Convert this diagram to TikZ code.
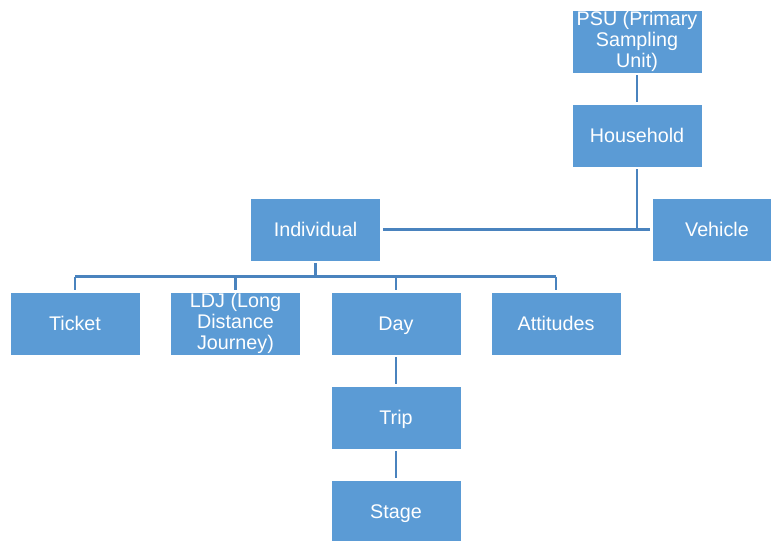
\documentclass[tikz,border=0pt]{standalone}
\usepackage{fontspec}
\setmainfont{Liberation Sans}
\definecolor{boxblue}{RGB}{91,155,213}
\definecolor{lineblue}{RGB}{74,131,190}
\newcommand{\boxstrut}{\rule[-3.1pt]{0pt}{16.5pt}}

\tikzset{every picture/.style={line width=0.75pt}}

\begin{document}
\begin{tikzpicture}[x=0.75pt,y=0.75pt,yscale=-1,xscale=1,
	unitbox/.style={draw=white,line width=0.4pt,fill=boxblue,text=white,minimum width=97.5pt,minimum height=47.25pt,inner sep=0pt,align=center,font=\fontsize{14.8}{15.6}\selectfont,execute at begin node=\boxstrut,execute at end node=\boxstrut},
	link/.style={draw=lineblue,line width=2.2pt,shorten <=1.5pt,shorten >=1.5pt}]
	\useasboundingbox (0,0) rectangle (771,540);
	\clip (0,0) rectangle (771,540);

	% Boxes
	\node [unitbox] (psu) at (637,41.5) {PSU (Primary\\Sampling\\Unit)};
	\node [unitbox] (household) at (637,135.5) {Household};
	\node [unitbox] (individual) at (315.5,229.5) {Individual};
	\node [unitbox] (vehicle) at (717,229.5) {Vehicle};
	\node [unitbox] (ticket) at (75,323.5) {Ticket};
	\node [unitbox] (ldj) at (235.5,323.5) {LDJ (Long\\Distance\\Journey)};
	\node [unitbox] (day) at (396,323.5) {Day};
	\node [unitbox] (attitudes) at (556,323.5) {Attitudes};
	\node [unitbox] (trip) at (396,417.5) {Trip};
	\node [unitbox] (stage) at (396,511.5) {Stage};

	% Bus line under Individual
	\coordinate (bus) at (315.5,276.5);

	% Connectors
	\draw [link] (psu) -- (household);
	\draw [link,shorten >=0pt] (household.south) -- (household.south |- individual.east);
	\draw [link] (individual.east) -- (vehicle.west);
	\draw [link,shorten >=0pt] (individual.south) -- (bus);
	\draw [link,shorten <=0pt,shorten >=0pt] (ticket.north |- bus) -- (attitudes.north |- bus);
	\draw [link,shorten <=0pt] (ticket.north |- bus) -- (ticket.north);
	\draw [link,shorten <=0pt] (ldj.north |- bus) -- (ldj.north);
	\draw [link,shorten <=0pt] (day.north |- bus) -- (day.north);
	\draw [link,shorten <=0pt] (attitudes.north |- bus) -- (attitudes.north);
	\draw [link] (day) -- (trip);
	\draw [link] (trip) -- (stage);

\end{tikzpicture}
\end{document}
